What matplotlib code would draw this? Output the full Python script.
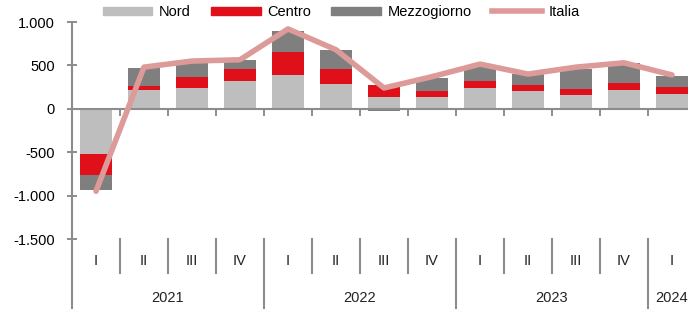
import matplotlib.pyplot as plt
import matplotlib.transforms as mtransforms
from matplotlib.ticker import FuncFormatter
from matplotlib.lines import Line2D
from matplotlib.patches import Patch
import numpy as np

plt.rcParams['font.family'] = ['Liberation Sans', 'DejaVu Sans']

# quarters 2021 I .. 2024 I
quarters = ["I", "II", "III", "IV", "I", "II", "III", "IV", "I", "II", "III", "IV", "I"]
years = ["2021", "2022", "2023", "2024"]
year_len = [4, 4, 4, 1]

nord = [-520, 220, 245, 322, 395, 291, 140, 140, 240, 201, 155, 217, 171]
centro = [-245, 45, 120, 132, 256, 163, 136, 61, 86, 75, 78, 78, 77]
mezzogiorno = [-175, 205, 175, 104, 248, 229, -30, 152, 155, 127, 228, 236, 128]
italia = [-950, 480, 550, 565, 920, 680, 240, 370, 515, 400, 480, 530, 390]

c_nord = '#BEBEBE'
c_centro = '#E0101A'
c_mezz = '#7F7F7F'
c_ita = '#DC9A98'
grey = '#8C8C8C'

fig = plt.figure(figsize=(6.88, 3.11), dpi=100)
W, H = 688, 311
ax = fig.add_axes([72 / W, (H - 239) / H, (696 - 72) / W, (239 - 22) / H])

x = np.arange(len(quarters))
pos = np.zeros(len(x))
neg = np.zeros(len(x))
for vals, col in [(nord, c_nord), (centro, c_centro), (mezzogiorno, c_mezz)]:
    v = np.array(vals, dtype=float)
    bottom = np.where(v >= 0, pos, neg)
    ax.bar(x, v, 0.67, bottom=bottom, color=col, zorder=2)
    pos = pos + np.where(v >= 0, v, 0)
    neg = neg + np.where(v < 0, v, 0)

ax.plot(x, italia, color=c_ita, lw=4, solid_capstyle='round', solid_joinstyle='round', zorder=4)

ax.set_xlim(-0.5, len(x) - 0.5)
ax.set_ylim(-1500, 1000)
ax.set_yticks([-1500, -1000, -500, 0, 500, 1000])
ax.yaxis.set_major_formatter(FuncFormatter(lambda v, p: f"{int(v):,}".replace(",", ".")))
ax.tick_params(axis='y', direction='inout', length=7, width=1.4, color=grey, pad=9, labelsize=10.5)
ax.set_xticks([])
for s in ax.spines.values():
    s.set_visible(False)

# zero axis with ticks between quarters
ax.axhline(0, color=grey, lw=1.5, zorder=3)
for b in np.arange(0.5, len(x) - 0.5):
    ax.plot([b, b], [0, -70], color=grey, lw=1.4, zorder=3)

# category label area below the plot
tr = mtransforms.blended_transform_factory(ax.transData, ax.transAxes)
ax.plot([-0.5, -0.5], [1, -0.32], transform=tr, color=grey, lw=1.5, clip_on=False)
year_edges = list(np.cumsum([0] + year_len[:-1]))
for b in range(1, len(x)):
    low = -0.32 if b in year_edges else -0.157
    ax.plot([b - 0.5, b - 0.5], [0, low], transform=tr, color=grey, lw=1.5, clip_on=False)
for i, q in enumerate(quarters):
    ax.text(i, -0.10, q, transform=tr, ha='center', va='center', fontsize=10.5, color='#222222')
start = 0
for yr, yl in zip(years, year_len):
    ax.text(start + yl / 2 - 0.5, -0.27, yr, transform=tr, ha='center', va='center',
            fontsize=10.5, color='#222222')
    start += yl

handles = [Patch(color=c_nord, label='Nord'), Patch(color=c_centro, label='Centro'),
           Patch(color=c_mezz, label='Mezzogiorno'),
           Line2D([], [], color=c_ita, lw=4, label='Italia')]
fig.legend(handles=handles, loc='center', bbox_to_anchor=(341 / W, 1 - 12 / H), ncol=4,
           frameon=False, fontsize=10.5, handlelength=3.4, handleheight=0.5,
           handletextpad=0.45, columnspacing=1.4, borderpad=0)

fig.savefig('out.png', dpi=100)
